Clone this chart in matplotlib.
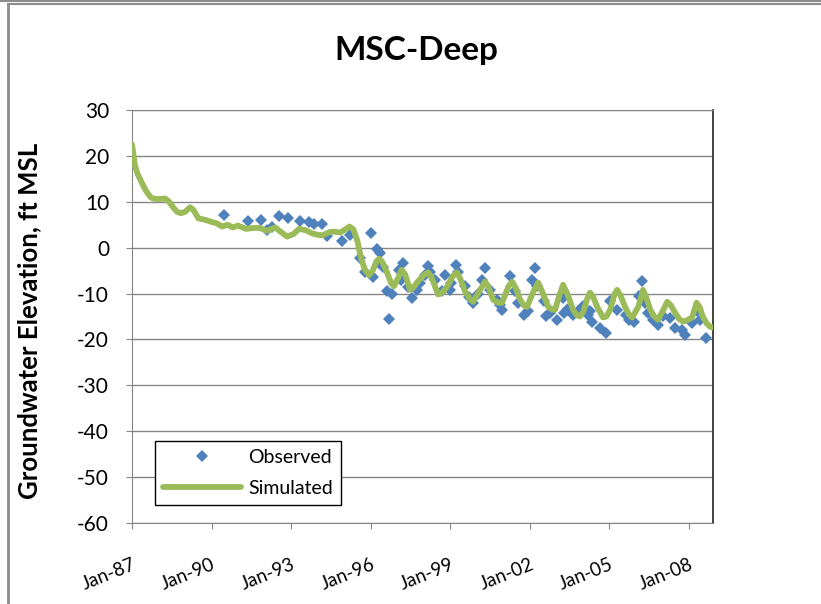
import matplotlib
matplotlib.use("Agg")
import matplotlib.pyplot as plt
from matplotlib.lines import Line2D

plt.rcParams['font.family'] = ['Lato', 'DejaVu Sans']
plt.rcParams['axes.unicode_minus'] = False

# Simulated groundwater elevation (decimal year, ft MSL)
sim_years = [1987.00, 1987.05, 1987.11, 1987.20, 1987.30, 1987.45, 1987.57, 1987.70,
             1987.80, 1988.00, 1988.25, 1988.40, 1988.55, 1988.70, 1988.85, 1989.00,
             1989.19, 1989.32, 1989.50, 1989.80, 1990.00, 1990.20, 1990.40, 1990.60,
             1990.80, 1991.00, 1991.30, 1991.60, 1991.80, 1992.10, 1992.40, 1992.60,
             1992.85, 1993.10, 1993.30, 1993.55, 1993.80, 1994.00, 1994.20, 1994.45,
             1994.60, 1994.85, 1995.00, 1995.20, 1995.35, 1995.50, 1995.65, 1995.80,
             1995.95, 1996.08, 1996.22, 1996.33, 1996.45, 1996.62, 1996.78, 1996.88,
             1997.05, 1997.17, 1997.30, 1997.49, 1997.60, 1997.75, 1998.00, 1998.17,
             1998.30, 1998.55, 1998.70, 1998.89, 1999.10, 1999.26, 1999.40, 1999.57,
             1999.75, 1999.87, 2000.10, 2000.32, 2000.45, 2000.62, 2000.80, 2000.96,
             2001.20, 2001.34, 2001.48, 2001.64, 2001.78, 2001.90, 2002.15, 2002.32,
             2002.47, 2002.70, 2002.85, 2002.96, 2003.12, 2003.26, 2003.42, 2003.64,
             2003.78, 2003.90, 2004.02, 2004.18, 2004.28, 2004.40, 2004.55, 2004.77,
             2004.90, 2005.04, 2005.20, 2005.30, 2005.42, 2005.60, 2005.75, 2005.87,
             2006.10, 2006.28, 2006.40, 2006.55, 2006.70, 2006.85, 2007.05, 2007.19,
             2007.32, 2007.49, 2007.65, 2007.79, 2007.95, 2008.13, 2008.30, 2008.42,
             2008.53, 2008.68, 2008.80, 2008.92]
sim_vals = [22.5, 20.5, 18.0, 16.2, 15.0, 13.2, 12.0, 11.0,
            10.7, 10.6, 10.7, 10.0, 8.8, 7.8, 7.5, 7.8,
            8.8, 8.2, 6.4, 6.0, 5.6, 5.3, 4.6, 5.0,
            4.4, 4.8, 4.1, 4.3, 4.3, 3.7, 4.4, 3.5,
            2.4, 3.0, 4.1, 3.8, 3.1, 2.8, 2.7, 3.4,
            3.5, 3.3, 3.8, 4.6, 4.0, 1.5, -2.5, -5.0,
            -6.0, -5.0, -3.0, -2.4, -3.2, -5.4, -7.8, -8.4,
            -6.5, -4.8, -5.8, -9.2, -8.8, -7.6, -6.0, -5.4,
            -6.5, -10.2, -9.8, -8.5, -6.2, -5.4, -7.0, -9.6,
            -11.2, -11.8, -9.5, -7.4, -8.6, -11.3, -12.0, -12.0,
            -8.5, -7.4, -8.8, -11.3, -12.6, -12.9, -9.5, -7.6,
            -9.5, -12.9, -13.5, -13.5, -10.5, -8.1, -10.0, -13.5,
            -14.7, -15.0, -14.0, -11.0, -9.8, -10.8, -12.9, -15.2,
            -15.0, -13.5, -10.2, -9.2, -10.3, -12.9, -14.6, -15.2,
            -12.9, -9.2, -10.8, -13.5, -15.0, -15.7, -13.5, -11.8,
            -12.5, -14.2, -15.6, -16.1, -15.8, -15.2, -12.0, -13.0,
            -15.0, -16.5, -17.2, -17.4]

# Observed groundwater elevation (decimal year, ft MSL)
obs_years = [1990.47, 1991.37, 1991.86, 1992.08, 1992.27, 1992.56, 1992.87, 1993.34,
             1993.69, 1993.88, 1994.16, 1994.35, 1994.91, 1995.23, 1995.60, 1995.80,
             1996.03, 1996.23, 1996.10, 1996.36, 1996.30, 1996.62, 1996.80, 1996.69,
             1997.09, 1997.22, 1997.16, 1997.55, 1997.74, 1997.86, 1998.18, 1998.25,
             1998.43, 1998.69, 1998.81, 1998.98, 1999.23, 1999.29, 1999.55, 1999.88,
             2000.07, 2000.32, 2000.19, 2000.51, 2000.76, 2000.95, 2001.26, 2001.45,
             2001.58, 2001.77, 2002.09, 2002.21, 2002.28, 2002.53, 2002.78, 2003.03,
             2003.28, 2003.47, 2003.65, 2003.27, 2003.40, 2003.84, 2004.03, 2004.22,
             2004.34, 2004.65, 2004.90, 2005.02, 2004.28, 2005.30, 2005.62, 2005.75,
             2005.94, 2006.13, 2006.23, 2006.35, 2006.48, 2006.67, 2006.86, 2007.05,
             2007.30, 2007.49, 2007.74, 2007.86, 2008.12, 2008.30, 2008.42, 2008.67,
             1996.45, 1997.40, 1998.05, 1999.05, 1999.70, 2000.88, 2001.95, 2002.62]
obs_vals = [7.2, 5.9, 6.1, 3.9, 4.6, 7.0, 6.5, 5.9,
            5.5, 5.2, 5.2, 2.6, 1.4, 2.8, -2.2, -5.4,
            3.3, -0.4, -6.5, -1.1, -3.3, -9.5, -10.2, -15.5,
            -4.8, -3.3, -7.0, -10.9, -9.2, -7.6, -4.1, -5.4,
            -7.0, -9.5, -5.9, -9.2, -3.7, -5.2, -8.4, -12.0,
            -10.2, -4.4, -7.0, -9.2, -11.3, -13.5, -6.2, -9.5,
            -12.0, -14.6, -7.0, -4.4, -8.4, -11.7, -14.2, -15.7,
            -14.2, -13.1, -14.6, -11.0, -13.5, -13.9, -12.8, -14.6,
            -16.1, -17.5, -18.6, -11.7, -13.9, -13.5, -14.6, -15.7,
            -16.1, -10.6, -7.3, -12.0, -14.2, -15.7, -16.8, -15.0,
            -15.3, -17.5, -17.9, -19.0, -16.4, -13.9, -15.7, -19.7,
            -4.2, -8.6, -6.0, -7.8, -10.8, -12.6, -13.8, -14.8]

tick_years = [1987, 1990, 1993, 1996, 1999, 2002, 2005, 2008]
tick_labels = ["Jan-87", "Jan-90", "Jan-93", "Jan-96", "Jan-99", "Jan-02", "Jan-05", "Jan-08"]
y_ticks = [30, 20, 10, 0, -10, -20, -30, -40, -50, -60]

fig = plt.figure(figsize=(8.21, 6.04), dpi=100)
ax = fig.add_axes([0.1608, 0.1341, 0.7077, 0.6838])

ax.plot(obs_years, obs_vals, linestyle='none', marker='D', markersize=6.5,
        color='#4F81BD', markeredgewidth=0, label='Observed', zorder=3)
ax.plot(sim_years, sim_vals, color='#9BBB59', linewidth=4.2,
        solid_joinstyle='round', solid_capstyle='round', label='Simulated', zorder=4)

ax.set_xlim(1987.0, 2008.92)
ax.set_ylim(-60, 30)
ax.set_yticks(y_ticks)
ax.set_xticks(tick_years)
ax.set_xticklabels(tick_labels, rotation=22, fontsize=13.5, ha='right',
                   va='top', rotation_mode='anchor')
ax.tick_params(axis='y', labelsize=15, length=4.5, color='#868686', direction='out', pad=12)
ax.tick_params(axis='x', length=4.5, color='#868686', direction='out', pad=19)
ax.grid(axis='y', color='#868686', linewidth=1)
ax.set_axisbelow(True)

for side in ['left', 'bottom', 'top']:
    ax.spines[side].set_color('#868686')
ax.spines['right'].set_color('#333333')
ax.spines['right'].set_linewidth(1.3)

ax.set_ylabel('Groundwater Elevation, ft MSL', fontsize=18.5, fontweight='bold')
ax.yaxis.set_label_coords(-0.157, 0.49)
fig.text(0.507, 0.917, 'MSC-Deep', ha='center', va='center', fontsize=24, fontweight='bold')

leg = ax.legend(loc='lower left', bbox_to_anchor=(0.0396, 0.0436), borderaxespad=0,
                fontsize=14, fancybox=False, edgecolor='black', framealpha=1,
                handlelength=4.0, handletextpad=0.4, borderpad=0.4, labelspacing=0.75)
leg.get_frame().set_linewidth(1.0)

# outer chart frame (partly cropped)
fig.add_artist(Line2D([0, 1], [0.999, 0.999], color='#8c8c8c', linewidth=1.5, transform=fig.transFigure))
fig.add_artist(Line2D([0.01, 1], [0.993, 0.993], color='#8c8c8c', linewidth=1.5, transform=fig.transFigure))
fig.add_artist(Line2D([0.01, 0.01], [0, 0.993], color='#8c8c8c', linewidth=2, transform=fig.transFigure))

fig.savefig('out.png', dpi=100)
